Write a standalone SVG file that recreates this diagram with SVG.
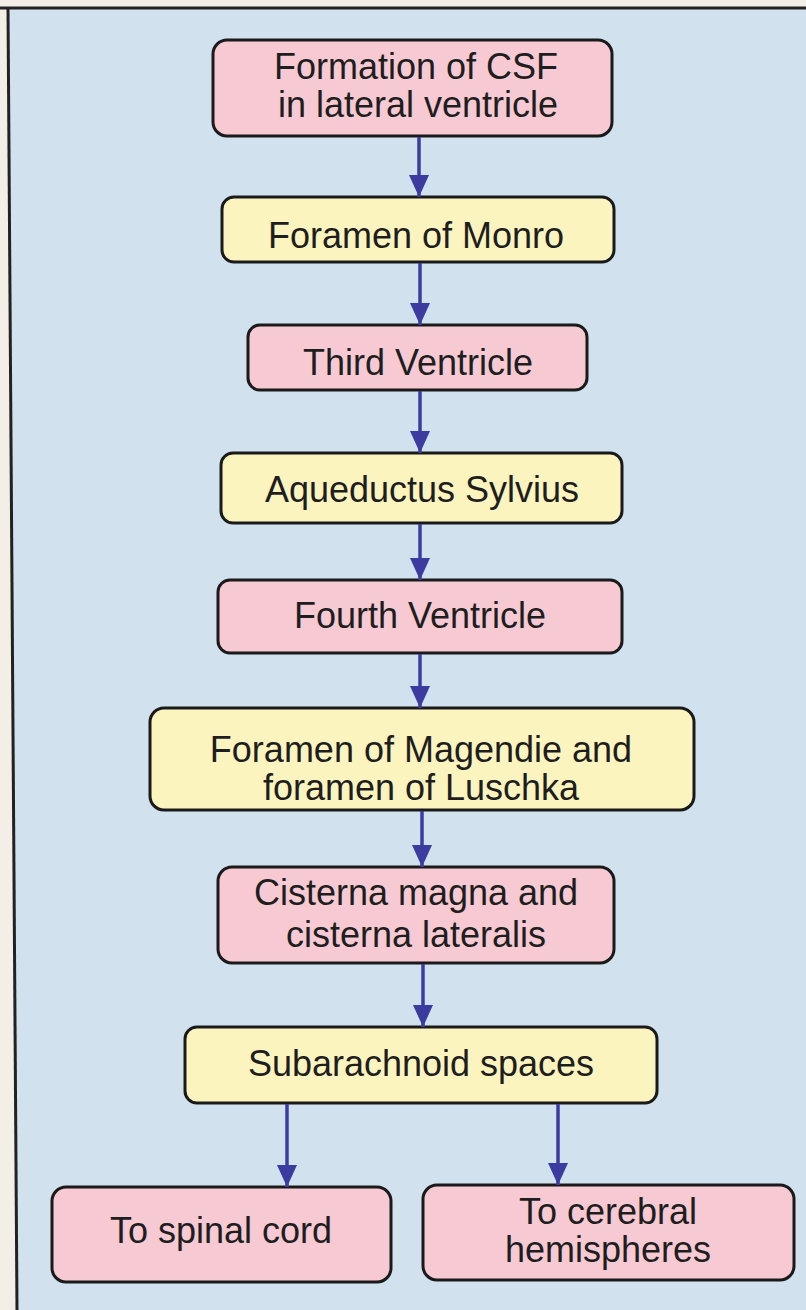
<svg xmlns="http://www.w3.org/2000/svg" width="806" height="1310" viewBox="0 0 806 1310">
<style>
.box{stroke:#1a1a1a;stroke-width:3}
.pink{fill:#f6c9d3}
.yellow{fill:#fcf4bf}
.t{font-family:"Liberation Sans",Arial,sans-serif;font-size:36px;fill:#1e1e1e;text-anchor:middle}
.arrow{stroke:#3c3ca0;stroke-width:3.5;fill:none;marker-end:url(#ah)}
</style>
<defs>
<marker id="ah" markerUnits="userSpaceOnUse" markerWidth="24" markerHeight="20" refX="22" refY="10" orient="auto">
<path d="M0,0 L22,10 L0,20 Z" fill="#3c3ca0"/>
</marker>
</defs>
<rect x="0" y="0" width="806" height="1310" fill="#f3efe6"/>
<polygon points="8,8 806,8 806,1310 17,1310" fill="#d1e2ee"/>
<line x1="0" y1="8" x2="806" y2="8" stroke="#222" stroke-width="3"/>
<line x1="8" y1="8" x2="17" y2="1310" stroke="#222" stroke-width="3"/>

<g id="n1"><rect class="box pink" x="213" y="40" width="399" height="96" rx="14"/>
<text class="t" x="416" y="79">Formation of CSF</text><text class="t" x="418" y="117">in lateral ventricle</text></g>
<g id="n2"><rect class="box yellow" x="222" y="197" width="392" height="65" rx="12"/>
<text class="t" x="416" y="248">Foramen of Monro</text></g>
<g id="n3"><rect class="box pink" x="248" y="325" width="339" height="65" rx="12"/>
<text class="t" x="418" y="375">Third Ventricle</text></g>
<g id="n4"><rect class="box yellow" x="221" y="453" width="401" height="70" rx="12"/>
<text class="t" x="422" y="502">Aqueductus Sylvius</text></g>
<g id="n5"><rect class="box pink" x="218" y="580" width="404" height="73" rx="12"/>
<text class="t" x="420" y="628">Fourth Ventricle</text></g>
<g id="n6"><rect class="box yellow" x="150" y="708" width="544" height="102" rx="14"/>
<text class="t" x="421" y="762">Foramen of Magendie and</text><text class="t" x="421" y="800">foramen of Luschka</text></g>
<g id="n7"><rect class="box pink" x="218" y="867" width="396" height="96" rx="14"/>
<text class="t" x="416" y="905">Cisterna magna and</text><text class="t" x="416" y="947">cisterna lateralis</text></g>
<g id="n8"><rect class="box yellow" x="185" y="1027" width="472" height="76" rx="12"/>
<text class="t" x="421" y="1076">Subarachnoid spaces</text></g>
<g id="n9"><rect class="box pink" x="52" y="1187" width="339" height="95" rx="14"/>
<text class="t" x="221" y="1243">To spinal cord</text></g>
<g id="n10"><rect class="box pink" x="423" y="1185" width="371" height="95" rx="14"/>
<text class="t" x="608" y="1224">To cerebral</text><text class="t" x="608" y="1262">hemispheres</text></g>

<g id="connectors">
<line class="arrow" x1="419" y1="137" x2="419" y2="197"/>
<line class="arrow" x1="420" y1="263" x2="420" y2="325"/>
<line class="arrow" x1="420" y1="391" x2="420" y2="453"/>
<line class="arrow" x1="420" y1="524" x2="420" y2="580"/>
<line class="arrow" x1="420" y1="654" x2="420" y2="708"/>
<line class="arrow" x1="422" y1="811" x2="422" y2="867"/>
<line class="arrow" x1="423" y1="964" x2="423" y2="1027"/>
<line class="arrow" x1="287" y1="1104" x2="287" y2="1187"/>
<line class="arrow" x1="558" y1="1104" x2="558" y2="1185"/>
</g>
</svg>
